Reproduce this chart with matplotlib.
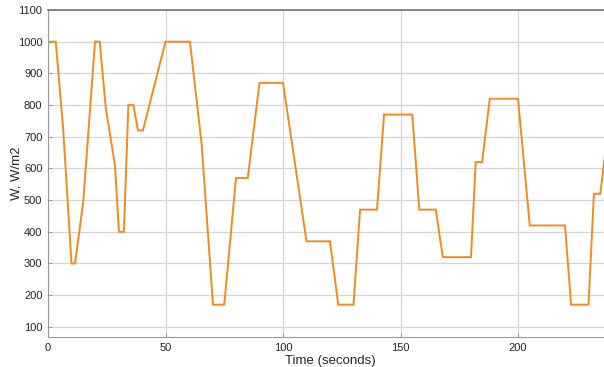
import matplotlib.pyplot as plt

plt.rcParams['font.family'] = ['Liberation Sans', 'DejaVu Sans']

# irradiance profile: breakpoints (time s, irradiance W/m2)
t = [0, 3.3, 6.5, 10, 11.5, 15, 20, 22, 24.6, 28.5, 30.2, 32.3, 34.2, 36.3, 38.3, 40.4,
     50, 60.4, 65.4, 70.2, 75, 80, 85, 90, 100, 110, 120, 123.5, 130, 132.8, 140,
     143, 155, 158, 165, 168, 180, 182, 184.7, 188, 200, 205, 220, 222.6, 230,
     232.3, 235, 238]
w = [1000, 1000, 720, 300, 300, 495, 1000, 1000, 790, 610, 400, 400, 800, 800, 720, 720,
     1000, 1000, 675, 170, 170, 570, 570, 870, 870, 370, 370, 170, 170, 470, 470,
     770, 770, 470, 470, 320, 320, 620, 620, 820, 820, 420, 420, 170, 170,
     520, 520, 700]

xticks = [0, 50, 100, 150, 200]
yticks = list(range(100, 1101, 100))

fig = plt.figure(figsize=(6.04, 3.67), dpi=100)
ax = fig.add_axes([48 / 604, 30 / 367, 564 / 604, 327 / 367])

ax.plot(t, w, color='#EE8D1F', lw=1.4, solid_joinstyle='miter')

ax.set_xlim(0, 240)
ax.set_ylim(68, 1100)
ax.set_xticks(xticks)
ax.set_yticks(yticks)
ax.grid(True, color='#d4d4d4', lw=0.9)
ax.set_axisbelow(True)

ax.tick_params(direction='in', length=3, width=0.6, colors='#888888',
               labelcolor='#262626', labelsize=8, pad=4)
for side in ['left', 'bottom']:
    ax.spines[side].set_color('#999999')
    ax.spines[side].set_linewidth(0.8)
ax.spines['top'].set_color('#777777')
ax.spines['top'].set_linewidth(1.2)
ax.spines['right'].set_visible(False)

ax.set_xlabel('Time (seconds)', fontsize=9.5, color='#262626', labelpad=2)
ax.set_ylabel('W, W/m2', fontsize=9.5, color='#262626')
ax.yaxis.set_label_coords(-0.045, 0.5)

fig.savefig('out.png', dpi=100)
